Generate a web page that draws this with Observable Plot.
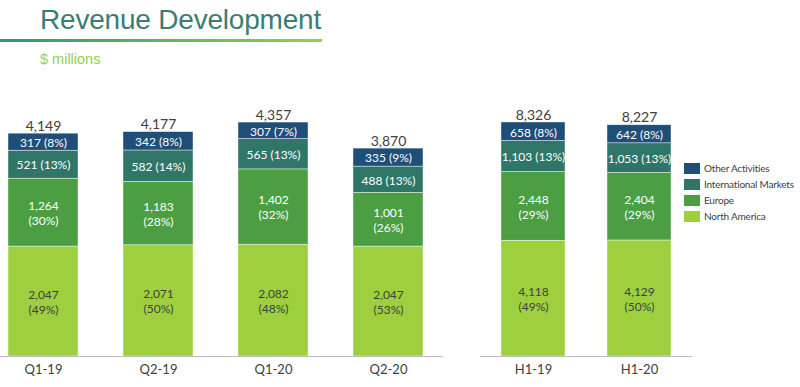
<!DOCTYPE html>
<html>
<head>
<meta charset="utf-8">
<script src="https://cdn.jsdelivr.net/npm/d3@7"></script>
<script src="https://cdn.jsdelivr.net/npm/@observablehq/plot@0.6"></script>
<style>
  html, body { margin: 0; padding: 0; background: #fff; }
  #wrap { position: relative; width: 800px; height: 387px; overflow: hidden; font-family: Lato, "Open Sans", sans-serif; }
  #title { position: absolute; left: 40px; top: 4px; font-family: "Liberation Sans", Arial, sans-serif; font-size: 28px; color: #3b7d74; letter-spacing: -0.2px; white-space: nowrap; }
  #rule { position: absolute; left: 0; top: 39px; width: 322px; height: 2.5px; background: linear-gradient(to right, #2e9872, #92d050); }
  #sub { position: absolute; left: 40px; top: 51px; font-family: "Liberation Sans", Arial, sans-serif; font-size: 14.5px; color: #92d050; white-space: nowrap; }
  .chart { position: absolute; top: 0; }
  #legend { position: absolute; left: 684px; top: 160px; font-size: 10px; letter-spacing: -0.2px; color: #404040; white-space: nowrap; }
  .li { height: 16px; display: flex; align-items: center; white-space: nowrap; }
  .sw { width: 16px; height: 11px; margin-right: 4px; flex: none; }
</style>
</head>
<body>
<div id="wrap">
  <div id="title">Revenue Development</div>
  <div id="rule"></div>
  <div id="sub">$ millions</div>
  <div id="left" class="chart" style="left:0px"></div>
  <div id="right" class="chart" style="left:480px"></div>
  <div id="legend"></div>
</div>
<script>
// ---- data ----
const regions = ["North America", "Europe", "International Markets", "Other Activities"];
const regionColors = ["#9dcf3f", "#4b9e42", "#2f7668", "#1f4e79"];

const categoriesQ = ["Q1-19", "Q2-19", "Q1-20", "Q2-20"];
const northAmericaQ = [2047, 2071, 2082, 2047];
const northAmericaPctQ = [49, 50, 48, 53];
const europeQ = [1264, 1183, 1402, 1001];
const europePctQ = [30, 28, 32, 26];
const internationalQ = [521, 582, 565, 488];
const internationalPctQ = [13, 14, 13, 13];
const otherQ = [317, 342, 307, 335];
const otherPctQ = [8, 8, 7, 9];
const totalsQ = [4149, 4177, 4357, 3870];

const categoriesH = ["H1-19", "H1-20"];
const northAmericaH = [4118, 4129];
const northAmericaPctH = [49, 50];
const europeH = [2448, 2404];
const europePctH = [29, 29];
const internationalH = [1103, 1053];
const internationalPctH = [13, 13];
const otherH = [658, 642];
const otherPctH = [8, 8];
const totalsH = [8326, 8227];

const fmt = d3.format(",");

function buildRows(cats, series) {
  const rows = [];
  cats.forEach((c, i) => {
    let base = 0;
    series.forEach(s => {
      const v = s.values[i];
      const p = s.pcts[i];
      const label = s.twoLine ? `${fmt(v)}\n(${p}%)` : `${fmt(v)} (${p}%)`;
      rows.push({cat: c, region: s.region, value: v, y1: base, y2: base + v, label});
      base += v;
    });
  });
  return rows;
}

const rowsQ = buildRows(categoriesQ, [
  {region: regions[0], values: northAmericaQ, pcts: northAmericaPctQ, twoLine: true},
  {region: regions[1], values: europeQ, pcts: europePctQ, twoLine: true},
  {region: regions[2], values: internationalQ, pcts: internationalPctQ, twoLine: false},
  {region: regions[3], values: otherQ, pcts: otherPctQ, twoLine: false}
]);
const rowsH = buildRows(categoriesH, [
  {region: regions[0], values: northAmericaH, pcts: northAmericaPctH, twoLine: true},
  {region: regions[1], values: europeH, pcts: europePctH, twoLine: true},
  {region: regions[2], values: internationalH, pcts: internationalPctH, twoLine: false},
  {region: regions[3], values: otherH, pcts: otherPctH, twoLine: false}
]);

function makeChart(cats, rows, totals, width, range, paddingInner) {
  const totalRows = cats.map((c, i) => ({cat: c, total: totals[i]}));
  return Plot.plot({
    width, height: 387,
    marginTop: 0, marginBottom: 31, marginLeft: 0, marginRight: 0,
    style: {fontFamily: "Lato, 'Open Sans', sans-serif", fontSize: "12px", color: "#404040", overflow: "visible", background: "transparent"},
    x: {domain: cats, range, paddingInner, paddingOuter: paddingInner / 2, label: null, axis: null},
    y: {domain: [0, d3.max(totals)], range: [356, 122], axis: null},
    color: {domain: regions, range: regionColors},
    marks: [
      Plot.barY(rows, {x: "cat", y1: "y1", y2: "y2", fill: "region", stroke: "#ffffff", strokeWidth: 0.6, strokeOpacity: 0.7}),
      Plot.text(rows.filter(d => d.region !== "North America"), {x: "cat", y: d => (d.y1 + d.y2) / 2, text: "label", fill: "white", lineHeight: 1.25}),
      Plot.text(rows.filter(d => d.region === "North America"), {x: "cat", y: d => (d.y1 + d.y2) / 2, text: "label", fill: "#404040", lineHeight: 1.25}),
      Plot.text(totalRows, {x: "cat", y: "total", text: d => fmt(d.total), dy: -3, lineAnchor: "bottom", fontSize: 14, fill: "#404040"}),
      Plot.ruleY([0], {stroke: "#bfbfbf", strokeWidth: 1.2}),
      Plot.axisX({tickSize: 0, tickPadding: 8, fontSize: 13, fill: "#404040", label: null})
    ]
  });
}

document.getElementById("left").append(makeChart(categoriesQ, rowsQ, totalsQ, 443, [-14.5, 445.5], 0.39));
document.getElementById("right").append(makeChart(categoriesH, rowsH, totalsH, 212, [0, 212], 0.396));

// legend (top to bottom: reverse of stacking)
const legend = document.getElementById("legend");
regions.slice().reverse().forEach(r => {
  const row = document.createElement("div");
  row.className = "li";
  const sw = document.createElement("div");
  sw.className = "sw";
  sw.style.background = regionColors[regions.indexOf(r)];
  const t = document.createElement("span");
  t.textContent = r;
  row.append(sw, t);
  legend.append(row);
});
</script>
</body>
</html>
